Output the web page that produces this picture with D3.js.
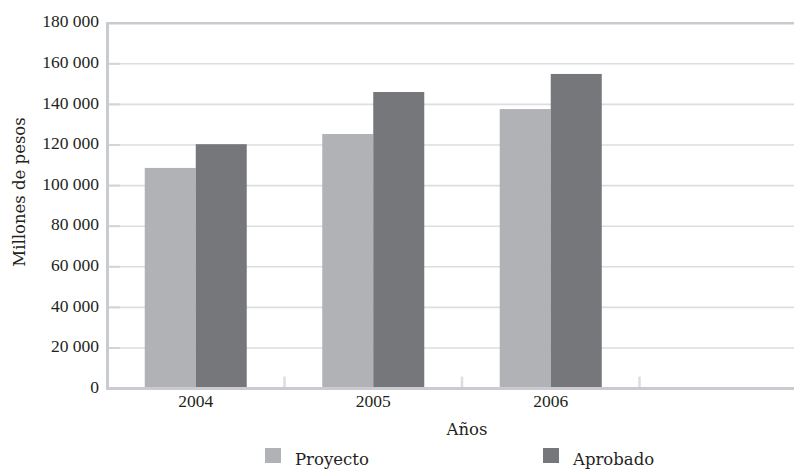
<!DOCTYPE html>
<html>
<head>
<meta charset="utf-8">
<script src="https://cdn.jsdelivr.net/npm/d3@7/dist/d3.min.js"></script>
<style>
  html, body { margin: 0; padding: 0; background: #ffffff; }
  svg { display: block; }
</style>
</head>
<body>
<script>
// ---- data ----
const categories = ["2004", "2005", "2006"];
const seriesNames = ["Proyecto", "Aprobado"];
const proyecto = [108700, 125400, 137700];
const aprobado = [120400, 146100, 155000];
const yTicks = [0, 20000, 40000, 60000, 80000, 100000, 120000, 140000, 160000, 180000];
const xTitle = "Años";
const yTitle = "Millones de pesos";
const colors = ["#b1b2b6", "#76777b"];

const W = 794, H = 469;
const svg = d3.select("body").append("svg").attr("width", W).attr("height", H);

const numFont = "'Liberation Serif', 'Times New Roman', serif";
const wordFont = "'DejaVu Serif', serif";
const textColor = "#231f20";

// 4 slots: the last one is an empty category
const x = d3.scaleBand().domain([...categories, "__empty__"]).range([107, 817]).paddingInner(0).paddingOuter(0);
const x1 = d3.scaleBand().domain(seriesNames).range([0, x.bandwidth()]).paddingInner(0).paddingOuter(0.74);
const y = d3.scaleLinear().domain([0, 180000]).range([388.6, 23.2]);

const locale = d3.formatLocale({ decimal: ",", thousands: " ", grouping: [3], currency: ["", ""] });
const fmt = locale.format(",");

// gridlines
svg.append("g").selectAll("line")
  .data(yTicks.filter(t => t > 0 && t < 180000))
  .join("line")
  .attr("x1", 108).attr("x2", W)
  .attr("y1", d => y(d)).attr("y2", d => y(d))
  .attr("stroke", "#dcdde1").attr("stroke-width", 1.6);

// top frame line
svg.append("line")
  .attr("x1", 106).attr("x2", W)
  .attr("y1", y(180000)).attr("y2", y(180000))
  .attr("stroke", "#c9cbd0").attr("stroke-width", 2.5);

// left tick stubs
svg.append("g").selectAll("line")
  .data(yTicks.filter(t => t > 0 && t < 180000))
  .join("line")
  .attr("x1", 108).attr("x2", 120)
  .attr("y1", d => y(d)).attr("y2", d => y(d))
  .attr("stroke", "#d3d4d8").attr("stroke-width", 2);

// bars
const rows = categories.map((c, i) => ({ cat: c, values: [proyecto[i], aprobado[i]] }));
const groups = svg.append("g").selectAll("g")
  .data(rows).join("g")
  .attr("transform", d => `translate(${x(d.cat)},0)`);
groups.selectAll("rect")
  .data(d => d.values.map((v, j) => ({ s: seriesNames[j], v, j })))
  .join("rect")
  .attr("x", d => x1(d.s))
  .attr("width", x1.bandwidth())
  .attr("y", d => y(d.v))
  .attr("height", d => y(0) - y(d.v))
  .attr("fill", d => colors[d.j]);

// bottom category separators
svg.append("g").selectAll("line")
  .data(x.domain().slice(1))
  .join("line")
  .attr("x1", d => x(d)).attr("x2", d => x(d))
  .attr("y1", y(0) - 12).attr("y2", y(0))
  .attr("stroke", "#dcdde1").attr("stroke-width", 2.5);

// axis lines
svg.append("line")
  .attr("x1", 107.5).attr("x2", 107.5)
  .attr("y1", y(180000) - 1).attr("y2", y(0) + 1.5)
  .attr("stroke", "#c9cbd0").attr("stroke-width", 3);
svg.append("line")
  .attr("x1", 106).attr("x2", W)
  .attr("y1", y(0)).attr("y2", y(0))
  .attr("stroke", "#c9cbd0").attr("stroke-width", 3);

// y tick labels
svg.append("g").selectAll("text")
  .data(yTicks).join("text")
  .attr("x", 99)
  .attr("y", d => y(d) - 2)
  .attr("dy", "0.35em")
  .attr("text-anchor", "end")
  .attr("font-family", numFont).attr("font-size", "17.5px")
  .attr("fill", textColor)
  .text(d => fmt(d));

// x labels
svg.append("g").selectAll("text")
  .data(categories).join("text")
  .attr("x", d => x(d) + x.bandwidth() / 2)
  .attr("y", 407)
  .attr("text-anchor", "middle")
  .attr("font-family", numFont).attr("font-size", "17.5px")
  .attr("fill", textColor)
  .text(d => d);

// axis titles
svg.append("text")
  .attr("x", 467).attr("y", 435)
  .attr("text-anchor", "middle")
  .attr("font-family", wordFont).attr("font-size", "16.5px")
  .attr("fill", textColor)
  .text(xTitle);
svg.append("text")
  .attr("transform", "translate(25,192) rotate(-90)")
  .attr("text-anchor", "middle")
  .attr("font-family", wordFont).attr("font-size", "16.5px")
  .attr("fill", textColor)
  .text(yTitle);

// legend
const legendX = [265, 543];
const leg = svg.append("g").selectAll("g")
  .data(seriesNames).join("g")
  .attr("transform", (d, i) => `translate(${legendX[i]},448)`);
leg.append("rect").attr("width", 16).attr("height", 15).attr("fill", (d, i) => colors[i]);
leg.append("text")
  .attr("x", 30).attr("y", 17)
  .attr("font-family", wordFont).attr("font-size", "16.5px")
  .attr("fill", textColor)
  .text(d => d);
</script>
</body>
</html>
